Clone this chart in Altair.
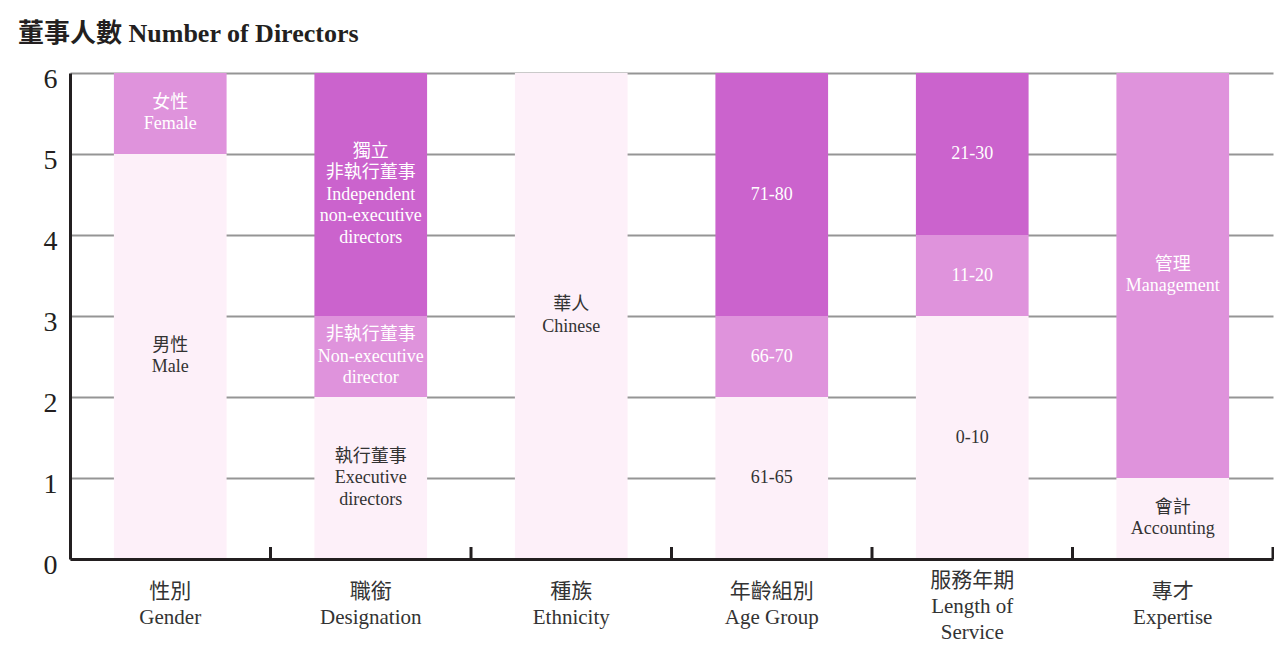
import altair as alt
import pandas as pd

# ---- data ----
categories = ["性別|Gender", "職銜|Designation", "種族|Ethnicity",
              "年齡組別|Age Group", "服務年期|Length of|Service", "專才|Expertise"]

seg_category = [0, 0, 1, 1, 1, 2, 3, 3, 3, 4, 4, 4, 5, 5]
seg_label = [
    "男性\nMale", "女性\nFemale",
    "執行董事\nExecutive\ndirectors", "非執行董事\nNon-executive\ndirector",
    "獨立\n非執行董事\nIndependent\nnon-executive\ndirectors",
    "華人\nChinese",
    "61-65", "66-70", "71-80",
    "0-10", "11-20", "21-30",
    "會計\nAccounting", "管理\nManagement",
]
seg_value = [5, 1, 2, 1, 3, 6, 2, 1, 3, 3, 1, 2, 1, 5]
seg_shade = ["light", "mid", "light", "mid", "dark", "light",
             "light", "mid", "dark", "light", "mid", "dark", "light", "mid"]
seg_order = [0, 1, 0, 1, 2, 0, 0, 1, 2, 0, 1, 2, 0, 1]

shade_domain = ["light", "mid", "dark"]
shade_colors = ["#fdf0f9", "#df93dc", "#cb63cd"]

df = pd.DataFrame({
    "category": [categories[i] for i in seg_category],
    "label": seg_label,
    "value": seg_value,
    "shade": seg_shade,
    "order": seg_order,
})
ticks_df = pd.DataFrame({"category": categories})

FONT = "'Liberation Serif', 'Noto Sans CJK TC'"
INK = "#231f20"
W, H = 1203, 486
YMAX = 6
LH = 21.5
PX_PER_UNIT = H / YMAX

xscale = alt.Scale(paddingInner=0, paddingOuter=0)

base = alt.Chart(df).transform_stack(
    stack="value", groupby=["category"], as_=["y0", "y1"],
    sort=[alt.SortField("order", order="ascending")]
)

bars = base.mark_bar(width=alt.RelativeBandSize(0.562)).encode(
    x=alt.X("category:N", sort=categories, scale=xscale,
            axis=alt.Axis(title=None, labelAngle=0, ticks=False, grid=False,
                          domain=True, domainWidth=3, domainColor=INK,
                          labelExpr="split(datum.label, '|')",
                          labelFont=FONT, labelFontSize=21, labelLineHeight=26,
                          labelBaseline="middle",
                          labelPadding=alt.condition(
                              "indexof(datum.label, 'Service') >= 0",
                              alt.value(21), alt.value(32)),
                          labelColor="#333333", zindex=1)),
    y=alt.Y("y0:Q", scale=alt.Scale(domain=[0, YMAX], nice=False),
            axis=alt.Axis(title=None, values=[0, 1, 2, 3, 4, 5, 6], ticks=False,
                          format="d",
                          grid=True, gridColor="#959595", gridWidth=2,
                          domain=True, domainWidth=3, domainColor=INK,
                          labelFont=FONT, labelFontSize=28, labelColor=INK,
                          labelPadding=13, labelOffset=6, zindex=0)),
    y2="y1:Q",
    color=alt.Color("shade:N", scale=alt.Scale(domain=shade_domain, range=shade_colors),
                    legend=None),
)

# centre the multi-line text block on the segment midpoint
texts = base.transform_calculate(
    nlines="length(split(datum.label, '\\n'))",
).transform_calculate(
    mid=f"(datum.y0 + datum.y1) / 2 + (datum.nlines - 1) * {LH} / 2 / {PX_PER_UNIT}",
).mark_text(
    lineBreak="\n", lineHeight=LH, baseline="middle", align="center",
    font=FONT, fontSize=18
).encode(
    x=alt.X("category:N", sort=categories, scale=xscale),
    y=alt.Y("mid:Q"),
    text="label:N",
    color=alt.condition(alt.datum.shade == "light", alt.value("#333333"), alt.value("#ffffff")),
)

tick_rules = alt.Chart(ticks_df).mark_rule(color=INK, strokeWidth=3).encode(
    x=alt.X("category:N", sort=categories, scale=xscale, bandPosition=1),
    y=alt.value(H - 12),
    y2=alt.value(H),
)

chart = alt.layer(bars, texts, tick_rules).properties(
    width=W, height=H,
    autosize=alt.AutoSizeParams(type="none"),
    padding={"left": 62, "top": 65, "right": 1, "bottom": 88},
    title=alt.TitleParams("董事人數 Number of Directors", anchor="start", frame="group",
                          font=FONT, fontSize=26, fontWeight="bold", color=INK,
                          baseline="alphabetic", dx=-52, offset=-3),
).configure_view(stroke=None)

chart.save("out.html", embed_options={"renderer": "svg", "actions": False})
